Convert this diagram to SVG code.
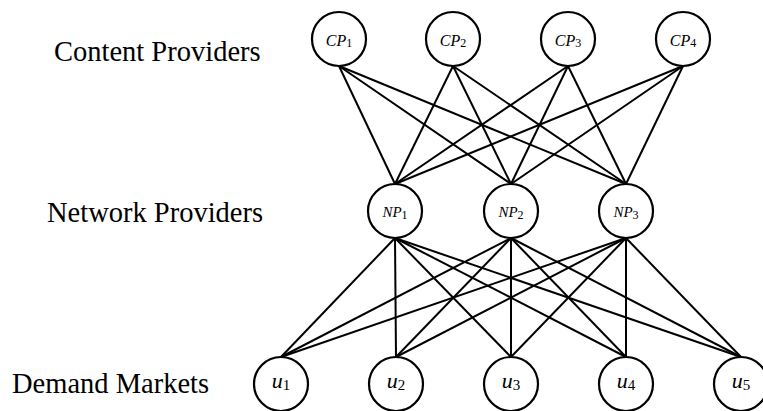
<svg xmlns="http://www.w3.org/2000/svg" width="763" height="411" viewBox="0 0 763 411">
  <style>
    .node circle { fill: #fff; stroke: #000; stroke-width: 2.2; }
    .edge { stroke: #000; stroke-width: 2; fill: none; }
    .tier { font-family: "Liberation Serif", "Times New Roman", serif; font-size: 28.5px; fill: #000; }
    .lbl { font-family: "Liberation Serif", "Times New Roman", serif; font-style: italic; fill: #000; text-anchor: middle; }
    .lbl .sub { font-style: normal; }
  </style>

  <!-- tier captions -->
  <text class="tier" x="54" y="61">Content Providers</text>
  <text class="tier" x="47" y="222">Network Providers</text>
  <text class="tier" x="12" y="393">Demand Markets</text>

  <!-- connectors: every CP to every NP, every NP to every market -->
  <g id="connectors" class="edge">
    <!-- CP -> NP -->
    <line x1="339" y1="66" x2="395" y2="184"/>
    <line x1="339" y1="66" x2="511" y2="184"/>
    <line x1="339" y1="66" x2="626" y2="184"/>
    <line x1="453" y1="66" x2="395" y2="184"/>
    <line x1="453" y1="66" x2="511" y2="184"/>
    <line x1="453" y1="66" x2="626" y2="184"/>
    <line x1="568" y1="66" x2="395" y2="184"/>
    <line x1="568" y1="66" x2="511" y2="184"/>
    <line x1="568" y1="66" x2="626" y2="184"/>
    <line x1="683" y1="66" x2="395" y2="184"/>
    <line x1="683" y1="66" x2="511" y2="184"/>
    <line x1="683" y1="66" x2="626" y2="184"/>
    <!-- NP -> u -->
    <line x1="395" y1="238" x2="281" y2="357"/>
    <line x1="395" y1="238" x2="396" y2="357"/>
    <line x1="395" y1="238" x2="511" y2="357"/>
    <line x1="395" y1="238" x2="626" y2="357"/>
    <line x1="395" y1="238" x2="741" y2="357"/>
    <line x1="511" y1="238" x2="281" y2="357"/>
    <line x1="511" y1="238" x2="396" y2="357"/>
    <line x1="511" y1="238" x2="511" y2="357"/>
    <line x1="511" y1="238" x2="626" y2="357"/>
    <line x1="511" y1="238" x2="741" y2="357"/>
    <line x1="626" y1="238" x2="281" y2="357"/>
    <line x1="626" y1="238" x2="396" y2="357"/>
    <line x1="626" y1="238" x2="511" y2="357"/>
    <line x1="626" y1="238" x2="626" y2="357"/>
    <line x1="626" y1="238" x2="741" y2="357"/>
  </g>

  <!-- content providers -->
  <g id="cp1" class="node"><circle cx="339" cy="39" r="27"/><text class="lbl" x="339" y="46" font-size="16">CP<tspan class="sub" font-size="12" dy="1">1</tspan></text></g>
  <g id="cp2" class="node"><circle cx="453" cy="39" r="27"/><text class="lbl" x="453" y="46" font-size="16">CP<tspan class="sub" font-size="12" dy="1">2</tspan></text></g>
  <g id="cp3" class="node"><circle cx="568" cy="39" r="27"/><text class="lbl" x="568" y="46" font-size="16">CP<tspan class="sub" font-size="12" dy="1">3</tspan></text></g>
  <g id="cp4" class="node"><circle cx="683" cy="39" r="27"/><text class="lbl" x="683" y="46" font-size="16">CP<tspan class="sub" font-size="12" dy="1">4</tspan></text></g>

  <!-- network providers -->
  <g id="np1" class="node"><circle cx="395" cy="211" r="27"/><text class="lbl" x="395" y="217" font-size="15">NP<tspan class="sub" font-size="12" dy="2">1</tspan></text></g>
  <g id="np2" class="node"><circle cx="511" cy="211" r="27"/><text class="lbl" x="511" y="217" font-size="15">NP<tspan class="sub" font-size="12" dy="2">2</tspan></text></g>
  <g id="np3" class="node"><circle cx="626" cy="211" r="27"/><text class="lbl" x="626" y="217" font-size="15">NP<tspan class="sub" font-size="12" dy="2">3</tspan></text></g>

  <!-- demand markets -->
  <g id="u1" class="node"><circle cx="281" cy="384" r="27"/><text class="lbl" x="281" y="388" font-size="22">u<tspan class="sub" font-size="15" dy="2">1</tspan></text></g>
  <g id="u2" class="node"><circle cx="396" cy="384" r="27"/><text class="lbl" x="396" y="388" font-size="22">u<tspan class="sub" font-size="15" dy="2">2</tspan></text></g>
  <g id="u3" class="node"><circle cx="511" cy="384" r="27"/><text class="lbl" x="511" y="388" font-size="22">u<tspan class="sub" font-size="15" dy="2">3</tspan></text></g>
  <g id="u4" class="node"><circle cx="626" cy="384" r="27"/><text class="lbl" x="626" y="388" font-size="22">u<tspan class="sub" font-size="15" dy="2">4</tspan></text></g>
  <g id="u5" class="node"><circle cx="741" cy="384" r="27"/><text class="lbl" x="741" y="388" font-size="22">u<tspan class="sub" font-size="15" dy="2">5</tspan></text></g>
</svg>
